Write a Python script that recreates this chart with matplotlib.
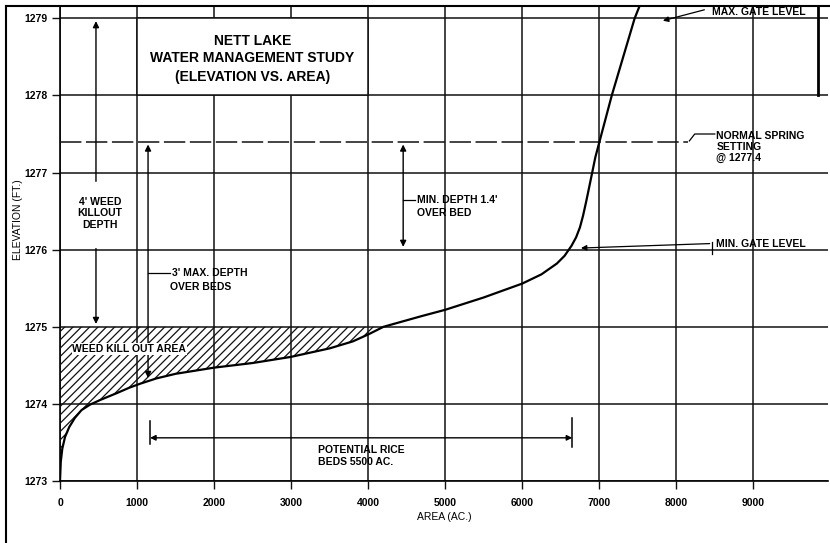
import numpy as np
import matplotlib.pyplot as plt
from matplotlib.patches import Rectangle
from matplotlib.lines import Line2D

plt.rcParams['font.family'] = ['Liberation Sans', 'DejaVu Sans']
plt.rcParams['font.weight'] = 'bold'
plt.rcParams['hatch.linewidth'] = 0.9

# elevation vs area curve
area = [0, 10, 30, 65, 120, 194, 280, 389, 520, 738, 900, 1036, 1250, 1500,
        2000, 2500, 3000, 3500, 3800, 4000, 4200, 4700, 5000, 5500, 6000,
        6250, 6450, 6550, 6640, 6700, 6750, 6790, 6830, 6880, 6950, 7163,
        7460, 7540]
elev = [1273.0, 1273.25, 1273.42, 1273.57, 1273.7, 1273.82, 1273.92, 1273.99,
        1274.05, 1274.14, 1274.21, 1274.26, 1274.33, 1274.39, 1274.47, 1274.53,
        1274.61, 1274.72, 1274.81, 1274.9, 1275.0, 1275.14, 1275.22, 1275.38,
        1275.56, 1275.68, 1275.82, 1275.92, 1276.05, 1276.16, 1276.29, 1276.44,
        1276.62, 1276.86, 1277.2, 1278.0, 1279.0, 1279.2]

x_ticks = [0, 1000, 2000, 3000, 4000, 5000, 6000, 7000, 8000, 9000]
x_labels = ['0', '1000', '2000', '3000', '4000', '5000', '6000', '7000', '8000', '9000']
y_ticks = [1273, 1274, 1275, 1276, 1277, 1278, 1279]

weed_level = 1275.0
spring_level = 1277.4
min_gate = 1276.0
max_gate = 1279.0
rice_start, rice_end = 1169, 6650

fig = plt.figure(figsize=(8.3, 5.43), dpi=100)
ax = fig.add_axes([60 / 830, 62 / 543, 768 / 830, 475 / 543])
ax.set_xlim(0, 9970)
ax.set_ylim(1273, 1279.16)
ax.set_axisbelow(True)

ax.set_xticks(x_ticks)
ax.set_xticklabels(x_labels)
ax.set_yticks(y_ticks)
ax.tick_params(axis='both', direction='out', length=6, width=1, color='#111111',
               labelsize=7.5, pad=3)
ax.tick_params(axis='x', pad=6)
ax.grid(True, color='#111111', lw=1.1)
for s in ['top', 'right']:
    ax.spines[s].set_visible(False)
for s in ['left', 'bottom']:
    ax.spines[s].set_linewidth(1.2)

# curve and weed kill out hatching
ax.plot(area, elev, color='black', lw=1.6, zorder=4)
a = np.array(area)
e = np.array(elev)
m = a <= 4200
ax.fill_between(a[m], e[m], weed_level, facecolor='none', edgecolor='#111111',
                hatch='////', lw=0, zorder=3)

# title box
ax.add_patch(Rectangle((1000, 1278), 3000, 1.0, facecolor='white',
                       edgecolor='#111111', lw=1.1, zorder=2))
ax.text(2500, 1278.71, 'NETT LAKE', ha='center', va='center', fontsize=10, zorder=5)
ax.text(2500, 1278.48, 'WATER MANAGEMENT STUDY', ha='center', va='center', fontsize=10, zorder=5)
ax.text(2500, 1278.24, '(ELEVATION VS. AREA)', ha='center', va='center', fontsize=10, zorder=5)
ax.plot([9844, 9844], [1278, 1279.16], color='black', lw=2, zorder=3)

# normal spring setting
ax.plot([0, 8150], [spring_level, spring_level], color='#111111', lw=1.1,
        ls=(0, (14, 3)), zorder=3)
ax.plot([8500, 8240, 8170], [1277.5, 1277.5, 1277.41], color='black', lw=0.9)
ax.text(8520, 1277.33, 'NORMAL SPRING\nSETTING\n@ 1277.4', ha='left', va='center',
        fontsize=7.5, linespacing=1.15)

# gate levels
ax.annotate('', xy=(7792, max_gate - 0.04), xytext=(8400, 1279.12),
            arrowprops=dict(arrowstyle='-|>', color='black', lw=0.9, mutation_scale=8))
ax.text(8470, 1279.08, 'MAX. GATE LEVEL', ha='left', va='center', fontsize=7.5)
ax.annotate('', xy=(6727, min_gate + 0.02), xytext=(8470, 1276.08),
            arrowprops=dict(arrowstyle='-|>', color='black', lw=0.9, mutation_scale=8))
ax.plot([8470, 8470], [1275.95, 1276.1], color='black', lw=0.9)
ax.text(8520, 1276.07, 'MIN. GATE LEVEL', ha='left', va='center', fontsize=7.5)

# 4' weed killout depth
arr = dict(arrowstyle='-|>', color='black', lw=1.0, mutation_scale=9)
ax.annotate('', xy=(467, max_gate), xytext=(467, 1276.85), arrowprops=arr)
ax.annotate('', xy=(467, weed_level), xytext=(467, 1276.05), arrowprops=arr)
ax.text(520, 1276.47, "4' WEED\nKILLOUT\nDEPTH", ha='center', va='center',
        fontsize=7.5, linespacing=1.2)

# 3' max depth over beds
ax.annotate('', xy=(1143, spring_level), xytext=(1143, 1274.3),
            arrowprops=dict(arrowstyle='<|-|>', color='black', lw=1.0, mutation_scale=9))
ax.plot([1143, 1430], [1275.7, 1275.7], color='black', lw=0.9)
ax.text(1450, 1275.7, "3' MAX. DEPTH", ha='left', va='center', fontsize=7.5)
ax.text(1430, 1275.52, 'OVER BEDS', ha='left', va='center', fontsize=7.5)

# min depth over bed
ax.annotate('', xy=(4455, spring_level), xytext=(4455, min_gate),
            arrowprops=dict(arrowstyle='<|-|>', color='black', lw=1.0, mutation_scale=9))
ax.plot([4455, 4610], [1276.64, 1276.64], color='black', lw=0.9)
ax.text(4630, 1276.64, "MIN. DEPTH 1.4'", ha='left', va='center', fontsize=7.5)
ax.text(4630, 1276.47, 'OVER BED', ha='left', va='center', fontsize=7.5)

# potential rice beds
ax.annotate('', xy=(rice_start, 1273.56), xytext=(rice_end, 1273.56),
            arrowprops=dict(arrowstyle='<|-|>', color='black', lw=1.0,
                            mutation_scale=8, shrinkA=0, shrinkB=0))
ax.plot([rice_start, rice_start], [1273.48, 1273.78], color='black', lw=1.1)
ax.plot([rice_end, rice_end], [1273.44, 1273.82], color='black', lw=1.1)
ax.text(3350, 1273.32, 'POTENTIAL RICE\nBEDS 5500 AC.', ha='left', va='center',
        fontsize=7.5, linespacing=1.25)

ax.text(160, 1274.71, 'WEED KILL OUT AREA', ha='left', va='center', fontsize=7.5,
        zorder=5, bbox=dict(facecolor='white', edgecolor='none', pad=0.5))

ax.set_xlabel('AREA (AC.)', fontsize=7.5, labelpad=3)
ax.set_ylabel('ELEVATION (FT.)', fontsize=7.5)
ax.yaxis.set_label_coords(-0.048, 0.55)

# page frame
fig.add_artist(Line2D([6 / 830, 6 / 830], [0, 1 - 6 / 543], color='black', lw=1.5))
fig.add_artist(Line2D([6 / 830, 1], [1 - 6 / 543, 1 - 6 / 543], color='black', lw=1.5))

fig.savefig('out.png', dpi=100)
